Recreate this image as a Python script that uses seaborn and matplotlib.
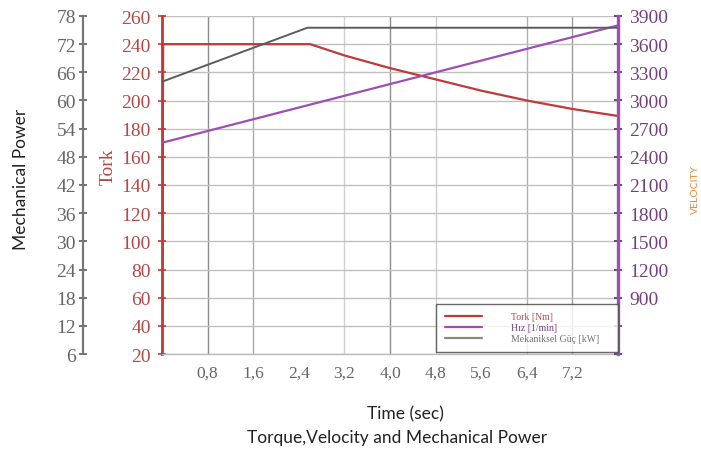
import matplotlib
matplotlib.use("Agg")
import matplotlib.pyplot as plt
import seaborn as sns
import pandas as pd
from matplotlib.lines import Line2D

# ---- data ----
tork_time = [0.0, 0.02, 2.6, 3.2, 4.0, 4.8, 5.6, 6.4, 7.2, 8.0]
tork_vals = [20, 240, 240, 232, 223, 215, 207, 200, 194, 189]

vel_time = [0.0, 8.0]
vel_vals = [2550, 3800]

pow_time = [0.0, 2.55, 8.0]
pow_vals = [64.0, 75.5, 75.5]

x_ticks = [0.8, 1.6, 2.4, 3.2, 4.0, 4.8, 5.6, 6.4, 7.2]
x_tick_labels = ["0,8", "1,6", "2,4", "3,2", "4,0", "4,8", "5,6", "6,4", "7,2"]
x_grid = [0.8, 1.6, 3.2, 4.0, 4.8, 6.4, 7.2]
x_grid_shade = ["#8c8c8c", "#a8a8a8", "#d0d0d0", "#8c8c8c", "#cccccc", "#b0b0b0", "#9c9c9c"]
tork_ticks = list(range(20, 261, 20))
pow_ticks = list(range(6, 79, 6))
vel_ticks = list(range(300, 3901, 300))
vel_tick_labels = ["", ""] + [str(v) for v in range(900, 3901, 300)]

legend_labels = ["Tork [Nm]", "Hız [1/min]", "Mekaniksel Güç [kW]"]

# ---- style ----
sns.set_style("white")
plt.rcParams["font.family"] = ["Liberation Serif", "DejaVu Serif"]

RED = "#c0393b"
RED_T = "#b24848"
PURP = "#9b4fb5"
PURP_T = "#74407f"
GRAY = "#5c5c5c"
GRAY_T = "#666666"

fig = plt.figure(figsize=(7.01, 4.52), dpi=100)
L, R, B, T = 162 / 701, 618 / 701, 1 - 355 / 452, 1 - 17 / 452
ax = fig.add_axes([L, B, R - L, T - B])
axv = ax.twinx()
axp = ax.twinx()

df_t = pd.DataFrame({"t": tork_time, "v": tork_vals})
df_v = pd.DataFrame({"t": vel_time, "v": vel_vals})
df_p = pd.DataFrame({"t": pow_time, "v": pow_vals})

sns.lineplot(data=df_t, x="t", y="v", ax=ax, color=RED, lw=1.6, sort=False, zorder=3)
sns.lineplot(data=df_v, x="t", y="v", ax=axv, color=PURP, lw=1.6, sort=False)
sns.lineplot(data=df_p, x="t", y="v", ax=axp, color=GRAY, lw=1.4, sort=False)

# main (Tork) axis
ax.set_xlim(0, 8)
ax.set_ylim(20, 260)
ax.set_xticks(x_ticks)
ax.set_xticklabels(x_tick_labels, fontsize=12.5, color=GRAY_T)
ax.set_yticks(tork_ticks)
ax.set_yticklabels([str(v) for v in tork_ticks], fontsize=14, color=RED_T)
ax.tick_params(axis="y", direction="inout", length=6, width=1.2, color=RED, pad=5, left=True)
ax.tick_params(axis="x", length=0, pad=8)
ax.grid(True, axis="y", color="#c0c0c0", lw=1.0)
for gx, gc in zip(x_grid, x_grid_shade):
    ax.axvline(gx, color=gc, lw=1.0, zorder=0.5)
ax.set_axisbelow(True)
ax.set_xlabel("")
ax.set_ylabel("Tork", fontsize=14, color=RED_T)
ax.yaxis.set_label_coords(-0.099, 0.556)
for s in ["top", "right"]:
    ax.spines[s].set_visible(False)
ax.spines["left"].set_color(RED)
ax.spines["left"].set_linewidth(2.0)
ax.spines["bottom"].set_color("#bbbbbb")
ax.spines["bottom"].set_linewidth(1.0)

# velocity axis (right)
axv.set_ylim(300, 3900)
axv.set_yticks(vel_ticks)
axv.set_yticklabels(vel_tick_labels, fontsize=14, color=PURP_T)
axv.tick_params(axis="y", direction="inout", length=6, width=1.2, color="#5a2a6a", pad=5, right=True)
axv.set_xlabel("")
axv.set_ylabel("")
for s in ["top", "left", "bottom"]:
    axv.spines[s].set_visible(False)
axv.spines["right"].set_color(PURP)
axv.spines["right"].set_linewidth(2.4)

# mechanical power axis (outer left)
axp.set_ylim(6, 78)
axp.yaxis.set_label_position("left")
axp.yaxis.set_ticks_position("left")
axp.spines["left"].set_position(("outward", 57))
axp.set_yticks(pow_ticks)
axp.set_yticklabels([str(v) for v in pow_ticks], fontsize=14, color=GRAY_T)
axp.tick_params(axis="y", direction="inout", length=6, width=1.2, color=GRAY, pad=2, left=True, right=False)
axp.set_xlabel("")
axp.set_ylabel("")
for s in ["top", "right", "bottom"]:
    axp.spines[s].set_visible(False)
axp.spines["left"].set_visible(True)
axp.spines["left"].set_color("#777777")
axp.spines["left"].set_linewidth(1.6)

# legend
handles = [Line2D([], [], color=RED, lw=1.6),
           Line2D([], [], color=PURP, lw=1.6),
           Line2D([], [], color="#8a8a74", lw=1.6)]
leg = axp.legend(handles, legend_labels, loc="lower left",
                 bbox_to_anchor=(0.601, 0.006, 0.399, 0.151), mode="expand",
                 fontsize=7, frameon=True, fancybox=False, borderaxespad=0,
                 handlelength=3.8, handletextpad=3.0, labelspacing=0.2,
                 borderpad=0.9)
leg.get_frame().set_edgecolor("#444444")
leg.get_frame().set_linewidth(1.0)
for txt, c in zip(leg.get_texts(), [RED_T, PURP_T, "#707070"]):
    txt.set_color(c)

# outer labels
sans = ["Lato", "DejaVu Sans"]
fig.text(21 / 701, 1 - 179 / 452, "Mechanical Power", rotation=90, ha="center", va="center",
         fontsize=12.5, color="#222222", family=sans)
fig.text(695 / 701, 1 - 190 / 452, "VELOCITY", rotation=90, ha="center", va="center",
         fontsize=7.5, color="#e08a3c", family=sans)
fig.text(405 / 701, 1 - 414 / 452, "Time (sec)", ha="center", va="center",
         fontsize=12.5, color="#222222", family=sans)
fig.text(397 / 701, 1 - 438 / 452, "Torque,Velocity and Mechanical Power", ha="center", va="center",
         fontsize=12.5, color="#222222", family=sans)

fig.savefig("out.png", dpi=100)
